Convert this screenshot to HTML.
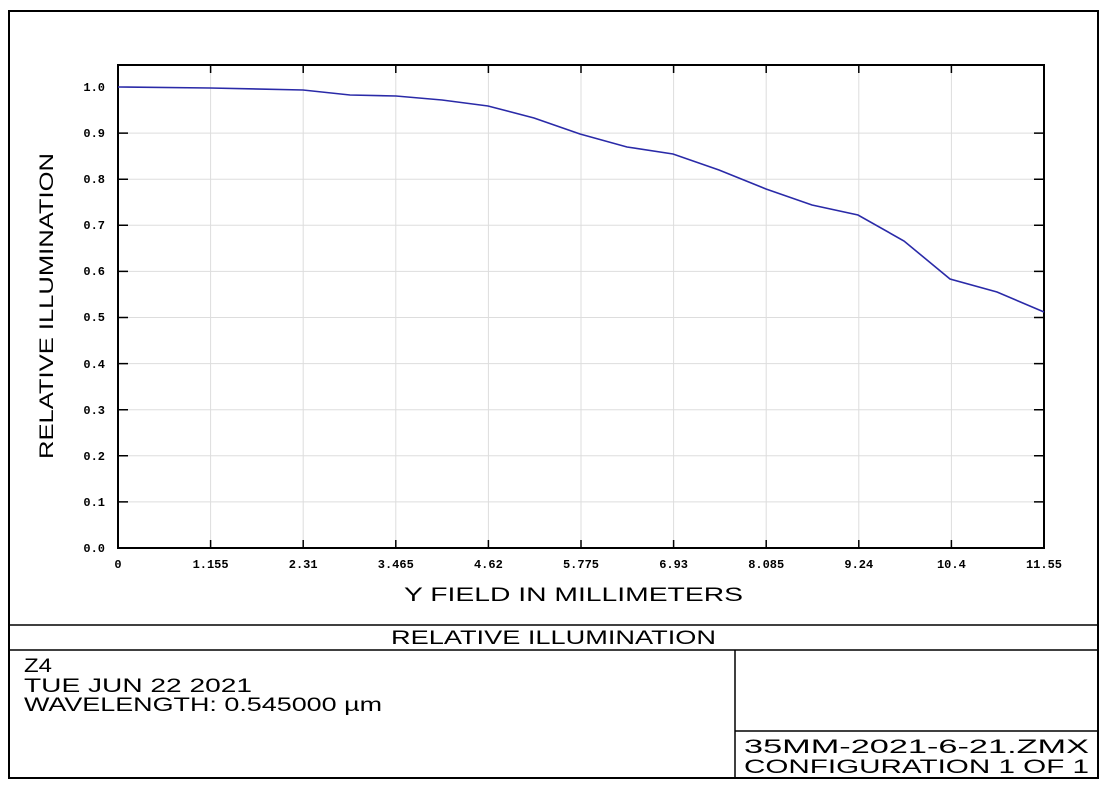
<!DOCTYPE html>
<html><head><style>body{margin:0;background:#fff}</style></head><body>
<svg width="1108" height="792" xmlns="http://www.w3.org/2000/svg" font-family="Liberation Sans, sans-serif">
<rect x="9" y="11" width="1089" height="767" fill="none" stroke="#000" stroke-width="2"/>
<line x1="9" y1="625" x2="1098" y2="625" stroke="#000" stroke-width="1.5"/>
<line x1="9" y1="650" x2="1098" y2="650" stroke="#000" stroke-width="1.5"/>
<line x1="735" y1="650" x2="735" y2="778" stroke="#000" stroke-width="1.5"/>
<line x1="735" y1="731" x2="1098" y2="731" stroke="#000" stroke-width="1.5"/>
<g stroke="#ddd" stroke-width="1">
<line x1="210.6" y1="65" x2="210.6" y2="548"/><line x1="303.2" y1="65" x2="303.2" y2="548"/><line x1="395.8" y1="65" x2="395.8" y2="548"/><line x1="488.4" y1="65" x2="488.4" y2="548"/><line x1="581" y1="65" x2="581" y2="548"/><line x1="673.6" y1="65" x2="673.6" y2="548"/><line x1="766.2" y1="65" x2="766.2" y2="548"/><line x1="858.8" y1="65" x2="858.8" y2="548"/><line x1="951.4" y1="65" x2="951.4" y2="548"/>
<line x1="118" y1="133.1" x2="1044" y2="133.1"/><line x1="118" y1="179.2" x2="1044" y2="179.2"/><line x1="118" y1="225.3" x2="1044" y2="225.3"/><line x1="118" y1="271.4" x2="1044" y2="271.4"/><line x1="118" y1="317.5" x2="1044" y2="317.5"/><line x1="118" y1="363.6" x2="1044" y2="363.6"/><line x1="118" y1="409.7" x2="1044" y2="409.7"/><line x1="118" y1="455.8" x2="1044" y2="455.8"/><line x1="118" y1="501.9" x2="1044" y2="501.9"/>
</g>
<rect x="118" y="65" width="926" height="483" fill="none" stroke="#000" stroke-width="2"/>
<g stroke="#000" stroke-width="1.5">
<path d="M210.6 65v8M303.2 65v8M395.8 65v8M488.4 65v8M581 65v8M673.6 65v8M766.2 65v8M858.8 65v8M951.4 65v8"/>
<path d="M210.6 548v-8M303.2 548v-8M395.8 548v-8M488.4 548v-8M581 548v-8M673.6 548v-8M766.2 548v-8M858.8 548v-8M951.4 548v-8"/>
<path d="M118 133.1h10M118 179.2h10M118 225.3h10M118 271.4h10M118 317.5h10M118 363.6h10M118 409.7h10M118 455.8h10M118 501.9h10"/>
<path d="M1044 133.1h-10M1044 179.2h-10M1044 225.3h-10M1044 271.4h-10M1044 317.5h-10M1044 363.6h-10M1044 409.7h-10M1044 455.8h-10M1044 501.9h-10"/>
</g>
<polyline fill="none" stroke="#2a2aa8" stroke-width="1.6" points="118,87 210,88 303,90 350,95 396,96 442,100 488,106 534,118 580,134 627,147 673,154 719,170 766,189 812,205 858,215 904,241 950,279 997,292 1044,312"/>
<g font-family="Liberation Mono, monospace" font-size="12" font-weight="bold" text-anchor="end" fill="#000">
<text x="105" y="91">1.0</text><text x="105" y="137">0.9</text><text x="105" y="183">0.8</text><text x="105" y="229">0.7</text><text x="105" y="275">0.6</text><text x="105" y="321">0.5</text><text x="105" y="368">0.4</text><text x="105" y="414">0.3</text><text x="105" y="460">0.2</text><text x="105" y="506">0.1</text><text x="105" y="552">0.0</text>
</g>
<g font-family="Liberation Mono, monospace" font-size="12" font-weight="bold" text-anchor="middle" fill="#000">
<text x="118" y="568">0</text><text x="210.6" y="568">1.155</text><text x="303.2" y="568">2.31</text><text x="395.8" y="568">3.465</text><text x="488.4" y="568">4.62</text><text x="581" y="568">5.775</text><text x="673.6" y="568">6.93</text><text x="766.2" y="568">8.085</text><text x="858.8" y="568">9.24</text><text x="951.4" y="568">10.4</text><text x="1044" y="568">11.55</text>
</g>
<g font-size="19" fill="#000">
<text x="404" y="601" textLength="339" lengthAdjust="spacingAndGlyphs">Y FIELD IN MILLIMETERS</text>
<text transform="translate(53,306) rotate(-90)" text-anchor="middle" textLength="306" lengthAdjust="spacingAndGlyphs">RELATIVE ILLUMINATION</text>
<text x="391" y="644" textLength="325" lengthAdjust="spacingAndGlyphs">RELATIVE ILLUMINATION</text>
<text x="24" y="672" textLength="28" lengthAdjust="spacingAndGlyphs">Z4</text>
<text x="24" y="692" textLength="228" lengthAdjust="spacingAndGlyphs">TUE JUN 22 2021</text>
<text x="24" y="711" textLength="358" lengthAdjust="spacingAndGlyphs">WAVELENGTH: 0.545000 µm</text>
<text x="744" y="753" textLength="345" lengthAdjust="spacingAndGlyphs">35MM-2021-6-21.ZMX</text>
<text x="744" y="773" textLength="345" lengthAdjust="spacingAndGlyphs">CONFIGURATION 1 OF 1</text>
</g>
</svg>
</body></html>
